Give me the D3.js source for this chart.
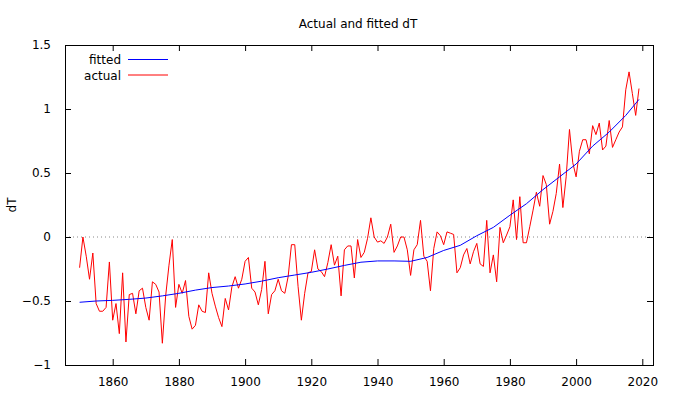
<!DOCTYPE html>
<html>
<head>
<meta charset="utf-8">
<script src="https://cdn.jsdelivr.net/npm/d3@7"></script>
<style>
    body { margin: 0; background: #fff; }
    text { font-family: "DejaVu Sans", Verdana, sans-serif; font-size: 12px; fill: #000; }
</style>
</head>
<body>
<div id="graph"></div>
<script>
"use strict";

// yearly actual dT, 1850..2019
const actualYears = d3.range(1850, 2020);
const actualValues = [
    -0.24, 0.00, -0.15, -0.33, -0.125, -0.52, -0.58, -0.58, -0.55, -0.195,
    -0.65, -0.52, -0.755, -0.28, -0.82, -0.45, -0.44, -0.60, -0.42, -0.40,
    -0.55, -0.65, -0.35, -0.37, -0.43, -0.83, -0.46, -0.22, -0.02, -0.55,
    -0.37, -0.44, -0.34, -0.62, -0.72, -0.69, -0.53, -0.58, -0.59, -0.28,
    -0.44, -0.54, -0.63, -0.70, -0.48, -0.57, -0.39, -0.31, -0.40, -0.33,
    -0.19, -0.16, -0.40, -0.43, -0.53, -0.41, -0.19, -0.60, -0.45, -0.42,
    -0.33, -0.42, -0.44, -0.31, -0.06, -0.06, -0.385, -0.65, -0.44, -0.28,
    -0.27, -0.10, -0.25, -0.27, -0.31, -0.20, -0.06, -0.22, -0.15, -0.46,
    -0.10, -0.07, -0.07, -0.32, -0.02, -0.16, -0.12, -0.01, 0.15, 0.00,
    -0.04, -0.03, -0.05, 0.00, 0.10, -0.12, -0.07, 0.00, 0.00, -0.10,
    -0.30, -0.10, -0.06, 0.13, -0.15, -0.19, -0.42, -0.09, 0.04, 0.01,
    -0.06, 0.04, 0.03, 0.02, -0.28, -0.24, -0.14, -0.09, -0.21, -0.115,
    -0.05, -0.21, -0.23, 0.13, -0.28, -0.14, -0.35, 0.075, -0.045, 0.015,
    0.08, 0.29, -0.02, 0.315, -0.045, -0.045, 0.08, 0.21, 0.35, 0.24,
    0.48, 0.41, 0.10, 0.20, 0.34, 0.57, 0.23, 0.47, 0.84, 0.58,
    0.47, 0.67, 0.76, 0.76, 0.65, 0.87, 0.80, 0.89, 0.68, 0.71,
    0.91, 0.70, 0.76, 0.82, 0.86, 1.15, 1.29, 1.12, 0.95, 1.16
];

// fitted curve, sampled every 5 years
const fittedYears = [1850, 1855, 1860, 1865, 1870, 1875, 1880, 1885, 1890, 1895,
    1900, 1905, 1910, 1915, 1920, 1925, 1930, 1935, 1940, 1945,
    1950, 1955, 1960, 1965, 1970, 1975, 1980, 1985, 1990, 1995,
    2000, 2005, 2010, 2015, 2019];
const fittedValues = [-0.51, -0.50, -0.495, -0.487, -0.477, -0.46, -0.44, -0.415, -0.395, -0.383,
    -0.367, -0.345, -0.318, -0.297, -0.276, -0.25, -0.222, -0.197, -0.187, -0.187,
    -0.19, -0.16, -0.105, -0.065, 0.01, 0.075, 0.17, 0.26, 0.37, 0.47,
    0.57, 0.71, 0.82, 0.95, 1.075];

const xTicks = [1860, 1880, 1900, 1920, 1940, 1960, 1980, 2000, 2020];
const yTicks = [-1, -0.5, 0, 0.5, 1, 1.5];

(function() {
    const svgSize = { width: 677, height: 394 };
    const plot = { left: 65, top: 45, right: 653, bottom: 365 };
    const tickLen = 6;

    window.addEventListener("load", init);

    function init() {
        let svg = d3.select("#graph")
                    .append("svg")
                        .attr("width", svgSize.width)
                        .attr("height", svgSize.height);

        let x = d3.scaleLinear().domain([1860, 2020]).range([112.7, 642.3]);
        let y = d3.scaleLinear().domain([-1, 1.5]).range([plot.bottom, plot.top]);

        // zero line
        svg.append("line")
            .attr("x1", plot.left).attr("x2", plot.right)
            .attr("y1", y(0)).attr("y2", y(0))
            .attr("stroke", "#888").attr("stroke-dasharray", "1,3");

        // axes: gnuplot style, ticks inward and mirrored
        let bottom = svg.append("g")
            .attr("transform", "translate(0," + plot.bottom + ")")
            .call(d3.axisBottom(x).tickValues(xTicks).tickSizeInner(-tickLen).tickSizeOuter(0).tickPadding(12).tickFormat(d3.format("d")));
        let top = svg.append("g")
            .attr("transform", "translate(0," + plot.top + ")")
            .call(d3.axisTop(x).tickValues(xTicks).tickSizeInner(-tickLen).tickSizeOuter(0).tickFormat(""));
        let left = svg.append("g")
            .attr("transform", "translate(" + plot.left + ",0)")
            .call(d3.axisLeft(y).tickValues(yTicks).tickSizeInner(-tickLen).tickSizeOuter(0).tickPadding(14).tickFormat(d3.format("")));
        let right = svg.append("g")
            .attr("transform", "translate(" + plot.right + ",0)")
            .call(d3.axisRight(y).tickValues(yTicks).tickSizeInner(-tickLen).tickSizeOuter(0).tickFormat(""));

        [bottom, top, left, right].forEach(function(g) {
            g.select(".domain").remove();
            g.selectAll("line").attr("stroke", "#000");
            g.selectAll("text")
                .style("font-family", "DejaVu Sans, Verdana, sans-serif")
                .style("font-size", "12px")
                .attr("fill", "#000");
        });
        bottom.selectAll(".tick").filter(function(d) { return x(d) > plot.right; }).remove();
        top.selectAll(".tick").filter(function(d) { return x(d) > plot.right; }).remove();

        // frame
        svg.append("rect")
            .attr("x", plot.left + 0.5).attr("y", plot.top + 0.5)
            .attr("width", plot.right - plot.left).attr("height", plot.bottom - plot.top)
            .attr("fill", "none").attr("stroke", "#000");

        // series
        let actual = actualYears.map((yr, i) => [yr, actualValues[i]]);
        let fitted = fittedYears.map((yr, i) => [yr, fittedValues[i]]);
        let line = d3.line().x(d => x(d[0])).y(d => y(d[1]));

        svg.append("path").datum(actual)
            .attr("d", line)
            .attr("fill", "none").attr("stroke", "#ff0000").attr("stroke-width", 1);
        svg.append("path").datum(fitted)
            .attr("d", line)
            .attr("fill", "none").attr("stroke", "#0000ff").attr("stroke-width", 1);

        // legend
        let legend = [
            { name: "fitted", color: "#0000ff" },
            { name: "actual", color: "#ff0000" }
        ];
        let lg = svg.append("g");
        legend.forEach(function(item, i) {
            let ly = 59.5 + i * 15.5;
            lg.append("text")
                .attr("x", 121).attr("y", ly + 4.5)
                .attr("text-anchor", "end")
                .text(item.name);
            lg.append("line")
                .attr("x1", 128).attr("x2", 168)
                .attr("y1", ly).attr("y2", ly)
                .attr("stroke", item.color);
        });

        // title and y label
        svg.append("text")
            .attr("x", 358).attr("y", 28)
            .attr("text-anchor", "middle")
            .text("Actual and fitted dT");
        svg.append("text")
            .attr("transform", "translate(16,205) rotate(-90)")
            .attr("text-anchor", "middle")
            .text("dT");
    }
})();
</script>
</body>
</html>
